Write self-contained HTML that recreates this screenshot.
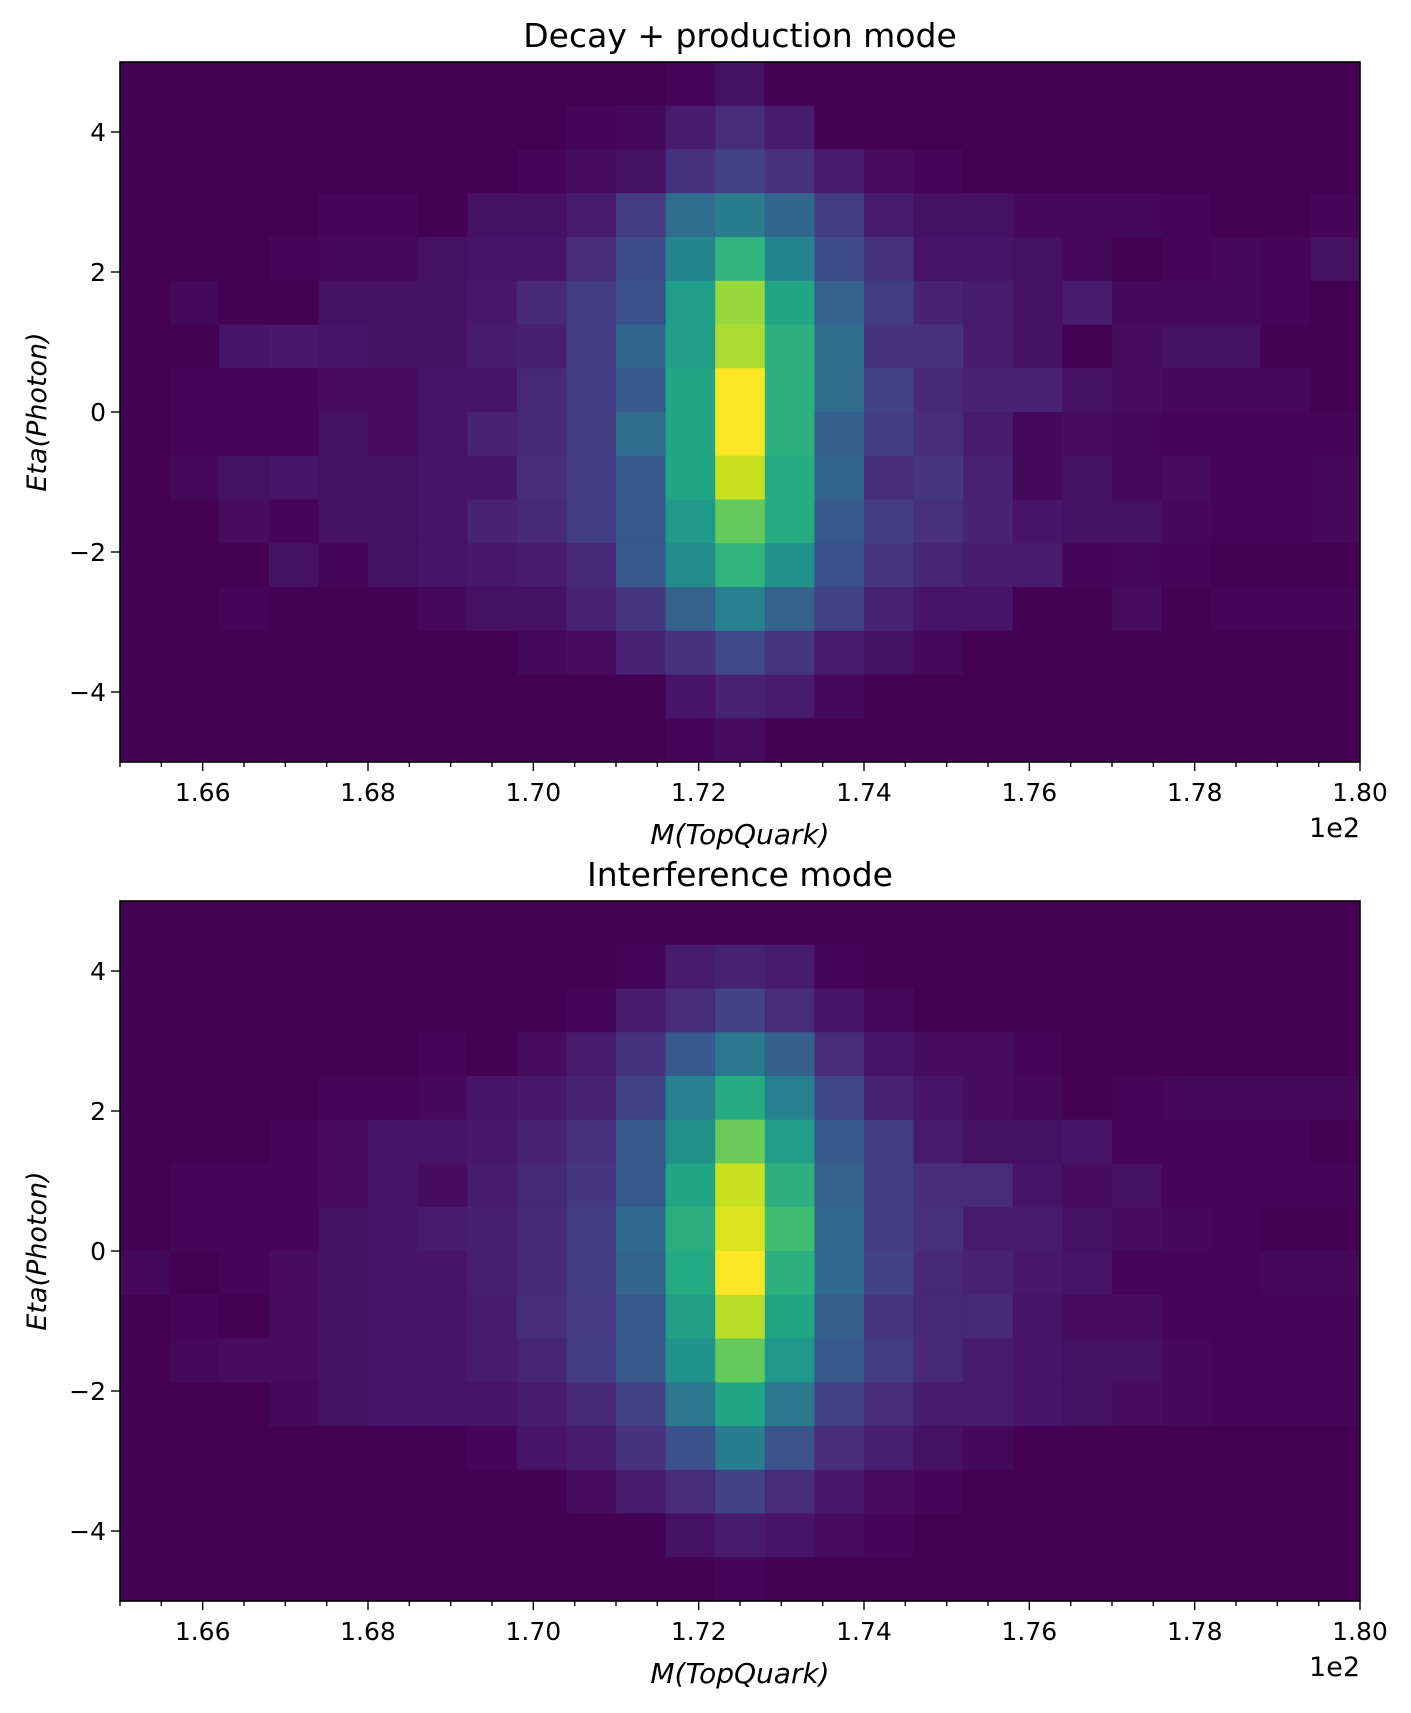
<!DOCTYPE html>
<html><head><meta charset="utf-8">
<style>
html,body{margin:0;padding:0;background:#fff;}
svg{display:block;font-family:"DejaVu Sans","Liberation Sans",sans-serif;}
</style></head>
<body>
<svg id="fig" width="1411" height="1713" viewBox="0 0 1411 1713" xmlns="http://www.w3.org/2000/svg"></svg>
<script>
// ---- data ----
const xEdgesMin = 165, xEdgesMax = 180;   // M(TopQuark) range
const yMin = -5, yMax = 5;                // Eta(Photon) range
const nCols = 25, nRows = 16;
const colorMin = 0.03;                    // colour-scale floor
const xTickValues = [166,168,170,172,174,176,178,180];
const xTickLabels = ["1.66","1.68","1.70","1.72","1.74","1.76","1.78","1.80"];
const yTickValues = [-4,-2,0,2,4];
const yTickLabels = ["\u22124","\u22122","0","2","4"];
const titles = ["Decay + production mode","Interference mode"];
// rows listed top (eta=5) to bottom (eta=-5); values normalised to max
const countsDecay = [
[0,0,0,0,0,0,0,0,0,0,0,0.04,0.07,0.03,0.01,0.01,0.01,0.01,0.01,0.01,0.01,0.01,0.01,0.01,0.01],
[0.01,0.01,0.01,0.01,0.01,0.01,0.01,0.01,0.01,0.04,0.05,0.1,0.15,0.1,0.02,0.01,0.01,0.01,0.01,0.01,0.01,0.01,0.01,0.01,0.01],
[0.01,0.01,0.01,0.01,0.01,0.01,0.01,0.01,0.04,0.06,0.07,0.17,0.22,0.17,0.1,0.06,0.04,0.02,0.02,0.02,0.02,0.02,0.02,0.02,0.02],
[0.01,0.01,0.01,0.01,0.04,0.04,0.03,0.07,0.07,0.1,0.2,0.37,0.43,0.35,0.2,0.1,0.07,0.07,0.05,0.05,0.05,0.04,0.02,0.02,0.04],
[0.01,0.02,0.03,0.04,0.05,0.05,0.07,0.08,0.08,0.15,0.25,0.47,0.66,0.47,0.25,0.17,0.08,0.08,0.07,0.05,0.02,0.04,0.05,0.04,0.07],
[0.02,0.05,0.02,0.03,0.07,0.07,0.07,0.09,0.14,0.2,0.27,0.57,0.85,0.6,0.33,0.2,0.12,0.1,0.07,0.1,0.05,0.05,0.05,0.04,0.03],
[0.02,0.02,0.08,0.09,0.08,0.07,0.07,0.1,0.11,0.2,0.35,0.57,0.88,0.65,0.38,0.17,0.17,0.1,0.07,0.03,0.06,0.07,0.07,0.03,0.02],
[0.02,0.04,0.04,0.04,0.06,0.06,0.08,0.08,0.14,0.2,0.3,0.6,1.0,0.65,0.37,0.22,0.14,0.12,0.12,0.07,0.06,0.05,0.05,0.05,0.03],
[0.02,0.04,0.04,0.04,0.07,0.06,0.08,0.12,0.14,0.2,0.37,0.6,1.0,0.65,0.32,0.2,0.15,0.1,0.05,0.06,0.05,0.04,0.04,0.04,0.04],
[0.01,0.05,0.07,0.08,0.07,0.07,0.08,0.08,0.15,0.2,0.3,0.6,0.92,0.63,0.35,0.15,0.18,0.12,0.05,0.07,0.05,0.06,0.04,0.04,0.05],
[0.01,0.02,0.06,0.04,0.07,0.07,0.08,0.12,0.14,0.2,0.3,0.55,0.77,0.63,0.3,0.2,0.16,0.12,0.08,0.07,0.07,0.05,0.04,0.04,0.05],
[0.02,0.02,0.02,0.07,0.04,0.07,0.08,0.09,0.1,0.14,0.3,0.5,0.66,0.52,0.27,0.18,0.13,0.1,0.1,0.04,0.05,0.04,0.03,0.03,0.03],
[0.02,0.03,0.04,0.03,0.02,0.02,0.05,0.07,0.07,0.12,0.18,0.33,0.45,0.33,0.22,0.12,0.08,0.08,0.03,0.03,0.06,0.03,0.04,0.04,0.04],
[0.01,0.01,0.01,0.01,0.01,0.01,0.01,0.01,0.05,0.06,0.12,0.17,0.24,0.18,0.1,0.07,0.05,0.01,0.01,0.01,0.01,0.01,0.01,0.01,0.01],
[0.01,0.01,0.01,0.01,0.01,0.01,0.01,0.01,0.01,0.01,0.01,0.08,0.12,0.1,0.05,0.03,0.01,0.01,0.01,0.01,0.01,0.01,0.01,0.01,0.01],
[0,0,0,0,0,0,0,0,0,0,0,0.04,0.06,0.03,0.01,0.01,0.01,0.01,0.01,0.01,0.01,0.01,0.01,0.01,0.01]
];
const countsInterf = [
[0,0,0,0,0,0,0,0,0,0,0,0.02,0.03,0.03,0,0,0,0,0,0,0,0,0,0,0],
[0.01,0.01,0.01,0.01,0.01,0.01,0.01,0.01,0.02,0.02,0.04,0.1,0.12,0.1,0.04,0.03,0.01,0.01,0.01,0.01,0.01,0.01,0.01,0.01,0.01],
[0.01,0.01,0.01,0.01,0.01,0.01,0.01,0.01,0.03,0.04,0.1,0.15,0.22,0.15,0.08,0.05,0.02,0.01,0.02,0.02,0.02,0.02,0.02,0.02,0.02],
[0.01,0.01,0.02,0.02,0.02,0.03,0.04,0.02,0.06,0.1,0.17,0.3,0.42,0.32,0.15,0.08,0.06,0.06,0.04,0.03,0.02,0.02,0.01,0.01,0.01],
[0.01,0.02,0.02,0.02,0.04,0.04,0.05,0.08,0.09,0.12,0.22,0.45,0.63,0.45,0.23,0.12,0.08,0.06,0.05,0.03,0.04,0.05,0.05,0.05,0.05],
[0.02,0.02,0.02,0.04,0.06,0.08,0.08,0.09,0.12,0.17,0.3,0.52,0.78,0.57,0.3,0.2,0.1,0.07,0.07,0.08,0.04,0.04,0.04,0.04,0.02],
[0.02,0.04,0.04,0.04,0.06,0.08,0.06,0.1,0.14,0.18,0.3,0.6,0.92,0.65,0.33,0.2,0.15,0.15,0.08,0.06,0.07,0.04,0.04,0.04,0.04],
[0.02,0.04,0.04,0.04,0.07,0.08,0.1,0.11,0.14,0.2,0.36,0.64,0.95,0.7,0.36,0.2,0.16,0.1,0.1,0.07,0.06,0.05,0.04,0.03,0.03],
[0.05,0.03,0.04,0.06,0.07,0.08,0.08,0.11,0.14,0.2,0.34,0.62,1.0,0.65,0.36,0.22,0.14,0.12,0.09,0.08,0.04,0.04,0.04,0.05,0.05],
[0.02,0.04,0.02,0.06,0.07,0.08,0.08,0.1,0.15,0.19,0.3,0.58,0.9,0.6,0.32,0.18,0.14,0.14,0.08,0.06,0.06,0.04,0.04,0.04,0.04],
[0.02,0.05,0.06,0.06,0.07,0.08,0.08,0.1,0.13,0.2,0.3,0.53,0.77,0.55,0.3,0.2,0.14,0.1,0.08,0.07,0.07,0.05,0.04,0.04,0.04],
[0.02,0.02,0.02,0.05,0.07,0.08,0.08,0.08,0.1,0.14,0.22,0.42,0.6,0.42,0.22,0.15,0.1,0.1,0.08,0.07,0.06,0.05,0.04,0.04,0.04],
[0.02,0.03,0.02,0.02,0.02,0.02,0.03,0.04,0.08,0.1,0.17,0.27,0.43,0.28,0.15,0.11,0.07,0.05,0.03,0.03,0.02,0.02,0.02,0.03,0.03],
[0.01,0.01,0.01,0.01,0.01,0.01,0.01,0.03,0.03,0.06,0.1,0.15,0.22,0.15,0.09,0.06,0.04,0.03,0.01,0.01,0.01,0.01,0.01,0.01,0.01],
[0.01,0.01,0.01,0.01,0.01,0.01,0.01,0.01,0.01,0.01,0.02,0.07,0.1,0.08,0.06,0.04,0.03,0.01,0.01,0.01,0.01,0.01,0.01,0.01,0.01],
[0,0,0,0,0,0,0,0,0,0,0,0.03,0.04,0.03,0.02,0.01,0.01,0.01,0.01,0.01,0.01,0.01,0.01,0.01,0.01]
];

// ---- viridis ----
const VIR = [[68,1,84],[72,26,108],[71,47,125],[65,68,135],[57,86,140],[49,104,142],[42,120,142],[35,136,142],[31,152,139],[34,168,132],[53,183,121],[84,197,104],[122,209,81],[165,219,54],[210,226,27],[253,231,37]];
function viridis(t){
  t=Math.max(0,Math.min(1,t));
  const p=t*(VIR.length-1), i=Math.min(Math.floor(p),VIR.length-2), f=p-i;
  const c=VIR[i].map((v,k)=>Math.round(v+(VIR[i+1][k]-v)*f));
  return `rgb(${c[0]},${c[1]},${c[2]})`;
}

const NS="http://www.w3.org/2000/svg";
const svg=document.getElementById('fig');
function mk(tag, attrs, parent){
  const e=document.createElementNS(NS,tag);
  for(const k in attrs) e.setAttribute(k,attrs[k]);
  (parent||svg).appendChild(e); return e;
}

const panels=[
  {top:62,bottom:762,data:countsDecay,name:'decay'},
  {top:901,bottom:1601,data:countsInterf,name:'interference'}
];
const L=120,R=1360;

panels.forEach((p,pi)=>{
  const sx=v=>L+(v-xEdgesMin)/(xEdgesMax-xEdgesMin)*(R-L);
  const sy=v=>p.bottom-(v-yMin)/(yMax-yMin)*(p.bottom-p.top);
  const g=mk('g',{});
  
  
  const hm=mk('g',{},g);
  
  
  let mx=0; p.data.forEach(r=>r.forEach(v=>{if(v>mx)mx=v;}));
  const dx=(xEdgesMax-xEdgesMin)/nCols, dy=(yMax-yMin)/nRows;
  p.data.forEach((row,ri)=>{
    const y1=yMax-ri*dy, y0=y1-dy;
    row.forEach((v,ci)=>{
      const x0=xEdgesMin+ci*dx, x1=x0+dx;
      const r=mk('rect',{x:sx(x0),y:sy(y1),width:sx(x1)-sx(x0)+0.5,height:sy(y0)-sy(y1)+0.5,fill:viridis((v-colorMin)/(mx-colorMin))},hm);
      
      
    });
  });
  const fr=mk('rect',{x:L,y:p.top,width:R-L,height:p.bottom-p.top,fill:'none',stroke:'#000','stroke-width':1.6},g);
  
  
  for(let v=xEdgesMin; v<=xEdgesMax+1e-9; v+=0.5){
    const major=Math.abs(v/2-Math.round(v/2))<1e-9;
    mk('line',{x1:sx(v),x2:sx(v),y1:p.bottom,y2:p.bottom+(major?9:5),stroke:'#000','stroke-width':1.4},g);
  }
  xTickValues.forEach((v,i)=>{
    const t=mk('text',{x:sx(v),y:p.bottom+39,'text-anchor':'middle','font-size':25,fill:'#000'},g);
    t.textContent=xTickLabels[i];
    
    
  });
  yTickValues.forEach((v,i)=>{
    mk('line',{x1:L-9,x2:L,y1:sy(v),y2:sy(v),stroke:'#000','stroke-width':1.4},g);
    const t=mk('text',{x:L-14,y:sy(v)+9,'text-anchor':'end','font-size':25,fill:'#000'},g);
    t.textContent=yTickLabels[i];
    
    
  });
  const title=mk('text',{x:(L+R)/2,y:p.top-15,'text-anchor':'middle','font-size':33,fill:'#000'},g);
  title.textContent=titles[pi];
  
  
  const xl=mk('text',{x:(L+R)/2,y:p.bottom+82,'text-anchor':'middle','font-size':28,'font-style':'italic',fill:'#000'},g);
  xl.textContent='M(TopQuark)';
  
  
  const off=mk('text',{x:R,y:p.bottom+75,'text-anchor':'end','font-size':27,fill:'#000'},g);
  off.textContent='1e2';
  
  
  const cy=(p.top+p.bottom)/2;
  const yl=mk('text',{x:46,y:cy,'text-anchor':'middle','font-size':27,'font-style':'italic',fill:'#000',transform:`rotate(-90 46 ${cy})`},g);
  yl.textContent='Eta(Photon)';
  
  
});
</script>
</body></html>
